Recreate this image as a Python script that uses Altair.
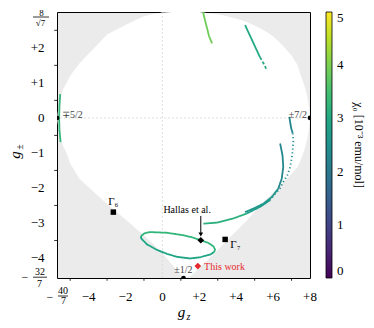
import altair as alt
import pandas as pd

SERIF = "Liberation Serif"

# axis limits: gz in [-40/7, 8], g± in [-32/7, 8/sqrt(7)]
gz_lim = [-5.7143, 8.0]
gp_lim = [-4.5714, 3.0237]

x_major = [-5.7143, -4, -2, 0, 2, 4, 6, 8]
x_minor = [-5, -3, -1, 1, 3, 5, 7]
y_major = [-4.5714, -4, -3, -2, -1, 0, 1, 2, 3.0237]
y_minor = [-3.5, -2.5, -1.5, -0.5, 0.5, 1.5, 2.5]
x_lab_vals = [-4, -2, 0, 2, 4, 6, 8]
x_lab_text = ["\u22124", "\u22122", "0", "+2", "+4", "+6", "+8"]
y_lab_vals = [-4, -3, -2, -1, 0, 1, 2]
y_lab_text = ["\u22124", "\u22123", "\u22122", "\u22121", "0", "+1", "+2"]
cbar_ticks = [0, 1, 2, 3, 4, 5]

# allowed (white) region boundary
bnd_gz = [-5.714, -5.6, -5.4, -5.2, -5.0, -4.5, -4.0, -3.5, -3.0, -2.5, -2.0, -1.5,
          -1.0, -0.5, 0.0, 0.5, 0.8, 1.14, 1.5, 2.0, 2.5, 3.0, 3.5, 4.0, 4.5, 5.0,
          5.5, 6.0, 6.5, 7.0, 7.3, 7.5, 7.7, 7.85, 7.95, 8.0]
bnd_hi = [0.0, 0.45, 0.8, 1.0, 1.2, 1.55, 1.83, 2.1, 2.38, 2.52, 2.65, 2.78,
          2.9, 2.97, 3.01, 3.024, 3.024, 3.024, 3.024, 3.024, 2.99, 2.96, 2.9, 2.83,
          2.75, 2.64, 2.5, 2.33, 2.08, 1.78, 1.53, 1.22, 0.92, 0.62, 0.3, 0.0]
bnd_lo = [0.0, -0.45, -0.78, -1.0, -1.3, -1.74, -1.98, -2.22, -2.46, -2.68, -2.9, -3.13,
          -3.36, -3.6, -3.86, -4.18, -4.36, -4.571, -4.53, -4.29, -4.03, -3.77, -3.5, -3.24,
          -2.97, -2.68, -2.4, -2.13, -1.87, -1.6, -1.42, -1.2, -0.9, -0.6, -0.3, 0.0]

# chi0 curves (segment name, style, chi0, gz, g±)
A_gz = [-5.54, -5.58, -5.60, -5.58, -5.52]
A_gp = [0.68, 0.35, 0.0, -0.35, -0.69]
B_gz = [2.20, 2.31, 2.42, 2.53, 2.69]
B_gp = [3.02, 2.79, 2.56, 2.33, 2.13]
C1_gz = [4.48, 4.86, 5.29]
C1_gp = [2.65, 2.22, 1.73]
C2_gz = [5.29, 5.45, 5.53, 5.61, 5.67]
C2_gp = [1.73, 1.59, 1.51, 1.42, 1.36]
D1_gz = [6.88, 6.97, 7.06]
D1_gp = [0.03, -0.27, -0.44]
D2_gz = [7.06, 7.10, 7.06, 7.01, 6.92, 6.77, 6.55, 6.38, 6.14, 5.83]
D2_gp = [-0.44, -0.64, -0.92, -1.15, -1.41, -1.64, -1.83, -2.01, -2.15, -2.35]
E2a_gz = [5.83, 5.29, 4.57]
E2a_gp = [-2.35, -2.54, -2.73]
E2b_gz = [4.57, 3.85, 2.95, 2.22]
E2b_gp = [-2.73, -2.87, -2.99, -3.02]
E1a_gz = [6.38, 6.51, 6.55, 6.47, 6.28]
E1a_gp = [-0.73, -1.07, -1.40, -1.73, -2.02]
E1b_gz = [6.28, 5.93, 5.47, 4.93, 4.48]
E1b_gp = [-2.02, -2.26, -2.45, -2.59, -2.69]
L1_gz = [-1.154, -0.937, -0.666, 0.238, 1.138, 1.609, 2.080, 2.492, 2.763, 2.855, 2.801]
L1_gp = [-3.366, -3.289, -3.260, -3.280, -3.351, -3.409, -3.494, -3.571, -3.666, -3.760, -3.831]
L2_gz = [2.801, 2.584, 2.042, 1.501, 0.780, 0.238, -0.303, -0.845, -1.154, -1.154]
L2_gp = [-3.831, -3.903, -3.980, -4.014, -3.966, -3.880, -3.766, -3.609, -3.437, -3.366]

segments = [
    ("A", "solid", 3.3, A_gz, A_gp),
    ("B", "solid", 3.9, B_gz, B_gp),
    ("C1", "solid", 3.05, C1_gz, C1_gp),
    ("C2", "dash", 3.05, C2_gz, C2_gp),
    ("D1", "solid", 2.3, D1_gz, D1_gp),
    ("D2", "dot", 2.4, D2_gz, D2_gp),
    ("E2a", "solid", 2.8, E2a_gz, E2a_gp),
    ("E2b", "solid", 3.2, E2b_gz, E2b_gp),
    ("E1a", "solid", 2.3, E1a_gz, E1a_gp),
    ("E1b", "solid", 2.65, E1b_gz, E1b_gp),
    ("L1", "solid", 3.3, L1_gz, L1_gp),
    ("L2", "solid", 2.95, L2_gz, L2_gp),
]

# special points
pure_gz = [-5.7143, 8.0, 1.1429]
pure_gp = [0.0, 0.0, -4.5714]
pure_lab = ["∓5/2", "±7/2", "±1/2"]
gamma_gz = [-2.66, 3.40]
gamma_gp = [-2.69, -3.47]
hallas = [2.08, -3.494]
thiswork = [1.92, -4.23]

rows = []
for name, style, chi, gzs, gps in segments:
    for i, (a, b) in enumerate(zip(gzs, gps)):
        rows.append({"gz": a, "gp": b, "chi": chi, "seg": name, "style": style, "i": i})
curves = pd.DataFrame(rows)
bnd = pd.DataFrame({"gz": bnd_gz, "gp": bnd_lo, "gp2": bnd_hi})

xs = alt.Scale(domain=gz_lim, nice=False, zero=False)
ys = alt.Scale(domain=gp_lim, nice=False, zero=False)

xaxis = alt.Axis(values=x_major, title=None, grid=False, tickSize=4.5, labels=False)
yaxis = alt.Axis(values=y_major, title=None, grid=False, tickSize=4.5, labels=False)


def X(f="gz"):
    return alt.X(f + ":Q", scale=xs, axis=None)


def Y(f="gp"):
    return alt.Y(f + ":Q", scale=ys, axis=None)


region = alt.Chart(bnd).mark_area(color="white", clip=True).encode(
    x=alt.X("gz:Q", scale=xs, axis=xaxis),
    y=alt.Y("gp:Q", scale=ys, axis=yaxis),
    y2="gp2:Q",
)

grid_v = alt.Chart(pd.DataFrame({"gz": [0.0]})).mark_rule(
    color="#d8d8d8", strokeDash=[2, 2], strokeWidth=0.8).encode(x=X())
grid_h = alt.Chart(pd.DataFrame({"gp": [0.0]})).mark_rule(
    color="#d8d8d8", strokeDash=[2, 2], strokeWidth=0.8).encode(y=Y())

lines = alt.Chart(curves).mark_line(strokeWidth=1.8, clip=True).encode(
    x=X(), y=Y(),
    color=alt.Color("chi:Q", scale=alt.Scale(scheme="viridis", domain=[0, 5]),
                    legend=alt.Legend(orient="none", legendX=269, legendY=0, direction="vertical",
                                      gradientLength=266, gradientThickness=6, values=cbar_ticks,
                                      title="χ₀ [10⁻³ emu/mol]", titleOrient="right",
                                      titleFont=SERIF, titleFontSize=12, titleFontWeight="normal",
                                      titleAnchor="middle", titlePadding=8,
                                      labelFont=SERIF, labelFontSize=13, labelOffset=5,
                                      labelColor="black", titleColor="black",
                                      gradientStrokeColor="black", gradientStrokeWidth=0.8,
                                      padding=0)),
    strokeDash=alt.StrokeDash("style:N", scale=alt.Scale(domain=["solid", "dot", "dash"],
                                                         range=[[1, 0], [1.2, 2.6], [3, 2]]),
                              legend=None),
    detail="seg:N",
    order="i:Q",
)

pure = alt.Chart(pd.DataFrame({"gz": pure_gz, "gp": pure_gp})).mark_circle(
    color="black", size=22, opacity=1, clip=True).encode(x=X(), y=Y())

pure_txt_df = pd.DataFrame({"gz": [-5.45, 7.84, 1.14], "gp": [0.0, 0.0, -4.44], "t": pure_lab})
pure_txt = [
    alt.Chart(pure_txt_df.iloc[[k]]).mark_text(font=SERIF, fontSize=10, color="#444",
                                                align=al, baseline="alphabetic").encode(
        x=X(), y=Y(), text="t:N")
    for k, al in enumerate(["left", "right", "center"])
]

gam = alt.Chart(pd.DataFrame({"gz": gamma_gz, "gp": gamma_gp})).mark_point(
    shape="square", filled=True, color="black", size=30, opacity=1).encode(x=X(), y=Y())
gam6_txt = alt.Chart(pd.DataFrame({"gz": [gamma_gz[0]], "gp": [-2.49], "t": ["Γ₆"]})).mark_text(
    font=SERIF, fontSize=11, baseline="alphabetic").encode(x=X(), y=Y(), text="t:N")
gam7_txt = alt.Chart(pd.DataFrame({"gz": [3.68], "gp": [-3.72], "t": ["Γ₇"]})).mark_text(
    font=SERIF, fontSize=11, baseline="alphabetic", align="left").encode(x=X(), y=Y(), text="t:N")

hal = alt.Chart(pd.DataFrame({"gz": [hallas[0]], "gp": [hallas[1]]})).mark_point(
    shape="diamond", filled=True, color="black", size=45, opacity=1).encode(x=X(), y=Y())
hal_txt = alt.Chart(pd.DataFrame({"gz": [1.34], "gp": [-2.72], "t": ["Hallas et al."]})).mark_text(
    font=SERIF, fontSize=10, baseline="alphabetic").encode(x=X(), y=Y(), text="t:N")
arrow = alt.Chart(pd.DataFrame({"gz": [hallas[0]], "gp": [-2.80], "gp2": [-3.33]})).mark_rule(
    color="black", strokeWidth=1).encode(x=X(), y=Y(), y2="gp2:Q")
head = alt.Chart(pd.DataFrame({"gz": [hallas[0]], "gp": [-3.33]})).mark_point(
    shape="triangle-down", filled=True, color="black", size=22, opacity=1).encode(x=X(), y=Y())

tw = alt.Chart(pd.DataFrame({"gz": [thiswork[0]], "gp": [thiswork[1]]})).mark_point(
    shape="diamond", filled=True, color="#e8282b", size=45, opacity=1).encode(x=X(), y=Y())
tw_txt = alt.Chart(pd.DataFrame({"gz": [2.26], "gp": [-4.34], "t": ["This work"]})).mark_text(
    font=SERIF, fontSize=10, baseline="alphabetic", align="left", color="#e8282b").encode(
    x=X(), y=Y(), text="t:N")

# minor ticks
xmin = alt.Chart(pd.DataFrame({"gz": x_minor})).mark_rule(color="black", strokeWidth=0.8).encode(
    x=X(), y=alt.value(266), y2=alt.value(268.8))
ymin = alt.Chart(pd.DataFrame({"gp": y_minor})).mark_rule(color="black", strokeWidth=0.8).encode(
    y=Y(), x=alt.value(0), x2=alt.value(-2.8))

# tick labels
xlab = alt.Chart(pd.DataFrame({"gz": x_lab_vals, "t": x_lab_text})).mark_text(
    font=SERIF, fontSize=13, baseline="middle", align="center", color="black").encode(
    x=X(), y=alt.value(284.5), text="t:N")
ylab = alt.Chart(pd.DataFrame({"gp": y_lab_vals, "t": y_lab_text})).mark_text(
    font=SERIF, fontSize=13, baseline="middle", align="right", color="black").encode(
    y=Y(), x=alt.value(-12.5), text="t:N")

dummy = pd.DataFrame({"a": [0]})


def ptext(t, x, y, size, **kw):
    return alt.Chart(dummy).mark_text(text=t, font=SERIF, fontSize=size, **kw).encode(
        x=alt.value(x), y=alt.value(y))


def pbar(x1, x2, y):
    return alt.Chart(dummy).mark_rule(color="black", strokeWidth=0.8).encode(
        x=alt.value(x1), x2=alt.value(x2), y=alt.value(y))


annot = [
    # 8/sqrt(7)
    ptext("8", -15.5, 0.8, 9), pbar(-24, -8, 5), ptext("√7", -16.5, 10.5, 9),
    # -32/7
    ptext("\u2212", -32, 265, 12), ptext("32", -17, 260.3, 10), pbar(-24, -10, 265.2),
    ptext("7", -17.5, 271.6, 10),
    # -40/7
    ptext("\u2212", -7, 284.8, 12), ptext("40", 6, 279.3, 10), pbar(1, 11, 284), ptext("7", 6.5, 288.8, 10),
    # axis titles
    ptext("g", 124.5, 299.5, 15, fontStyle="italic"), ptext("z", 131.5, 304.5, 10, fontStyle="italic"),
    ptext("g", -42.5, 143, 15, fontStyle="italic", angle=270),
    ptext("±", -37.5, 135, 10, angle=270),
]

chart = alt.layer(
    region, grid_v, grid_h, lines, pure, *pure_txt, gam, gam6_txt, gam7_txt,
    arrow, head, hal, hal_txt, tw, tw_txt, xmin, ymin, xlab, ylab, *annot
).properties(
    width=253, height=266,
    autosize=alt.AutoSizeParams(type="none"),
    padding={"left": 49, "top": 4, "right": 56, "bottom": 42},
).configure_view(
    fill="#ebebeb", stroke="black", strokeWidth=1
).configure_axis(
    tickColor="black", domainColor="black", domainWidth=1, tickWidth=0.8,
)

chart.save("out.html", embed_options={"renderer": "svg", "actions": False})
